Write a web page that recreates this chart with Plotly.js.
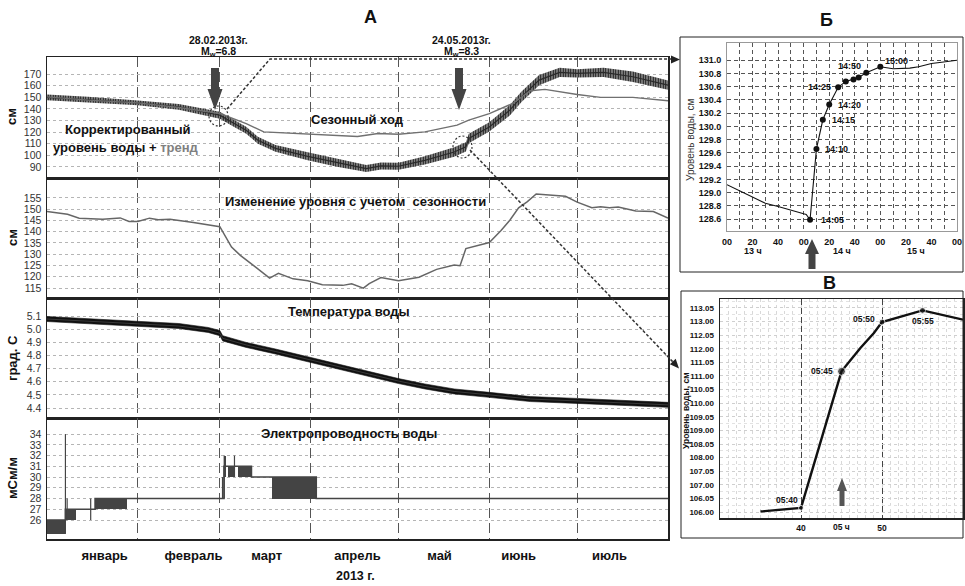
<!DOCTYPE html>
<html>
<head>
<meta charset="utf-8">
<script src="https://cdn.plot.ly/plotly-3.0.1.min.js"></script>
<style>
html,body{margin:0;padding:0;background:#fff;}
#chart{width:965px;height:586px;}
</style>
</head>
<body>
<div id="chart"></div>
<script>
// ================= DATA =================
const monthStarts = ['2013-01-01','2013-02-01','2013-03-01','2013-04-01','2013-05-01','2013-06-01','2013-07-01','2013-08-01'];
const monthLabelDates = ['2013-01-20 16:00','2013-02-20','2013-03-17','2013-04-17','2013-05-15','2013-06-11','2013-07-12'];
const monthLabels = ['январь','февраль','март','апрель','май','июнь','июль'];

const y1Ticks = [90,100,110,120,130,140,150,160,170];
const y2Ticks = [115,120,125,130,135,140,145,150,155];
const y3Ticks = [4.4,4.5,4.6,4.7,4.8,4.9,5.0,5.1];
const y4Ticks = [26,27,28,29,30,31,32,33,34];

// Panel 1: seasonal course (gray line)
const seasDates = ['2013-01-01','2013-01-15','2013-02-01','2013-02-15','2013-03-01','2013-03-10','2013-03-16','2013-03-28','2013-04-10','2013-04-17','2013-04-24','2013-05-01','2013-05-10','2013-05-21','2013-05-25','2013-06-01','2013-06-09','2013-06-15','2013-06-20','2013-07-01','2013-07-09','2013-07-20','2013-08-01'];
const seasVals  = [150.4,147.6,145.2,141.2,136.0,127.4,120.2,118.8,116.8,116.3,118.8,118.2,120.2,126.0,130.3,136.0,144.7,155.6,156.8,152.4,149.9,149.9,147.0];

// Panel 1: corrected water level + trend (center and tidal envelope)
const corrDates = ['2013-01-01','2013-01-15','2013-02-01','2013-02-15','2013-03-01','2013-03-05','2013-03-10','2013-03-14','2013-03-20','2013-03-31','2013-04-10','2013-04-20','2013-04-25','2013-05-01','2013-05-10','2013-05-20','2013-05-24','2013-05-25','2013-06-01','2013-06-08','2013-06-12','2013-06-18','2013-06-25','2013-07-01','2013-07-10','2013-07-20','2013-08-01'];
const corrMid  = [150.0,148.0,145.2,141.8,134.6,128.8,121.6,113.0,106.0,99.2,93.7,88.6,90.9,90.6,95.7,102.9,107.3,114.5,124.5,138.9,150.4,164.8,171.5,170.6,171.5,167.7,160.5];
const corrHigh = [152.5,150.5,147.2,144.3,137.6,131.8,124.6,116.0,109.0,102.7,97.2,91.6,93.9,93.6,99.2,106.9,111.3,118.5,128.5,143.4,154.9,169.3,175.5,174.1,175.5,172.2,164.5];
const corrLow  = [147.5,145.5,143.2,139.3,131.6,125.8,118.6,110.0,103.0,95.7,90.2,85.6,87.9,87.6,92.2,98.9,103.3,110.5,120.5,134.4,145.9,160.3,167.5,167.1,167.5,163.2,156.5];

// Panel 2: level change accounting for seasonality
const adjDates = ['2013-01-01','2013-01-08','2013-01-12','2013-01-20','2013-01-26','2013-01-29','2013-02-01','2013-02-05','2013-02-08','2013-02-12','2013-02-20','2013-03-01','2013-03-05','2013-03-08','2013-03-13','2013-03-18','2013-03-21','2013-03-26','2013-03-31','2013-04-05','2013-04-12','2013-04-15','2013-04-19','2013-04-21','2013-04-25','2013-05-01','2013-05-08','2013-05-14','2013-05-20','2013-05-22','2013-05-24','2013-06-01','2013-06-05','2013-06-08','2013-06-11','2013-06-14','2013-06-17','2013-06-22','2013-06-27','2013-07-01','2013-07-06','2013-07-09','2013-07-12','2013-07-15','2013-07-21','2013-07-27','2013-08-01'];
const adjVals  = [148.9,147.7,146.0,145.5,146.1,144.5,144.5,146.0,145.3,145.5,144.1,142.2,133.2,129.5,124.5,119.4,121.5,119.1,118.2,116.5,116.2,116.9,115.0,117.0,119.7,118.2,119.8,123.3,125.2,124.9,132.5,135.2,140.5,145.1,150.6,153.3,156.7,156.2,155.7,153.1,150.6,151.1,150.6,150.9,149.2,148.9,146.0];

// Panel 3: water temperature
const tempDates = ['2013-01-01','2013-01-15','2013-02-01','2013-02-15','2013-02-25','2013-03-01','2013-03-02','2013-03-10','2013-03-20','2013-04-01','2013-04-15','2013-05-01','2013-05-10','2013-05-20','2013-06-01','2013-06-15','2013-07-01','2013-07-15','2013-08-01'];
const tempMid  = [5.077,5.062,5.044,5.024,4.994,4.969,4.930,4.880,4.830,4.767,4.690,4.605,4.564,4.526,4.500,4.468,4.454,4.440,4.424];
const tempHigh = [5.096,5.081,5.063,5.043,5.013,4.990,4.950,4.899,4.849,4.786,4.709,4.624,4.583,4.545,4.519,4.487,4.473,4.459,4.443];
const tempLow  = [5.058,5.043,5.025,5.005,4.975,4.950,4.910,4.861,4.811,4.748,4.671,4.586,4.545,4.507,4.481,4.449,4.435,4.421,4.405];

// Panel 4: water conductivity
const condStepDates = ['2013-01-01','2013-01-07 07:00','2013-01-17 10:00','2013-03-02 10:00','2013-03-11 19:00','2013-04-02 22:00','2013-08-01'];
const condStepVals  = [26,27,28,31,30,28,28];
const condBlockStart = ['2013-01-01','2013-01-07 14:00','2013-01-17 10:00','2013-03-02 10:00','2013-03-03 16:00','2013-03-07 08:00','2013-03-18 21:00'];
const condBlockEnd   = ['2013-01-07 03:00','2013-01-10 22:00','2013-01-28 08:00','2013-03-03 00:00','2013-03-05 21:00','2013-03-11 19:00','2013-04-02 22:00'];
const condBlockLow   = [24.7,26,27,30,30,30,28];
const condBlockHigh  = [26,27,28,32,31,31,30];
const condSpikeDates = ['2013-01-07 07:00','2013-01-07 21:00','2013-01-15 22:00','2013-03-01 22:00','2013-03-02 12:00','2013-03-06 00:00'];
const condSpikeLow   = [24.7,26,26,28,28,30];
const condSpikeHigh  = [34,28,28,30,32,32];

// Panel Б (28.02.2013)
const bTimes = ['13:00','13:10','13:20','13:30','13:40','13:50','14:00','14:02','14:05','14:10','14:15','14:20','14:27','14:33','14:39','14:43','14:49','15:00','15:10','15:23','15:30','15:40','15:48','16:00'];
const bVals  = [129.12,129.03,128.94,128.84,128.79,128.73,128.68,128.67,128.59,129.66,130.10,130.33,130.59,130.68,130.71,130.74,130.81,130.90,130.87,130.88,130.90,130.95,130.97,131.00];
const bMarkTimes = ['14:05','14:10','14:15','14:20','14:27','14:33','14:39','14:43','14:49','15:00'];
const bMarkVals  = [128.59,129.66,130.10,130.33,130.59,130.68,130.71,130.74,130.81,130.90];
const bLabelText = ['14:05','14:10','14:15','14:20','14:25','14:50','15:00'];
const bLabelAt   = ['14:05','14:10','14:15','14:20','14:27','14:49','15:00'];
const bLabelVal  = [128.59,129.66,130.10,130.33,130.59,130.81,130.90];
const bYTicks = [128.6,128.8,129.0,129.2,129.4,129.6,129.8,130.0,130.2,130.4,130.6,130.8,131.0];
const bHourLabels = ['13 ч','14 ч','15 ч'];
const bHourAt = ['13:20','14:30','15:28'];

// Panel В (24.05.2013)
const vTimes = ['05:35:00','05:40:00','05:45:00','05:45:40','05:47:20','05:49:00','05:50:00','05:55:00','06:00:00'];
const vVals  = [106.02,106.15,111.17,111.42,112.03,112.58,112.98,113.41,113.07];
const vMarkTimes = ['05:40:00','05:45:00','05:50:00','05:55:00'];
const vMarkVals  = [106.15,111.17,112.98,113.41];
const vLabelText = ['05:40','05:45','05:50','05:55'];
const vYTickVals = [106,106.5,107,107.5,108,108.5,109,109.5,110,110.5,111,111.5,112,112.5,113,113.5];
const vYTickText = ['106.00','106.05','107.00','107.05','108.00','108.05','109.00','109.05','110.00','110.05','111.00','111.05','112.00','112.05','113.00','113.05'];

// ================= BUILD =================
const W = 965, H = 586;
const PX = x => x / W, PY = y => 1 - y / H;
const FN = '"Liberation Sans Narrow", "Liberation Sans", Arial, sans-serif';
const FS = '"Liberation Sans", Arial, sans-serif';
function ms(s){ const t = s.length <= 10 ? s + 'T00:00' : s.replace(' ', 'T'); return Date.parse(t + ':00Z'); }

const bDay = '2013-02-28 ', vDay = '2013-05-24 ';

const traces = [];
// panel 1
traces.push({x: corrDates, y: corrLow, xaxis:'x', yaxis:'y', mode:'lines', line:{width:0, color:'#333'}, hoverinfo:'skip'});
traces.push({x: corrDates, y: corrHigh, xaxis:'x', yaxis:'y', mode:'lines', line:{width:0, color:'#333'}, fill:'tonexty',
  fillcolor:'#9a9a9a', fillpattern:{shape:'|', size:2.5, solidity:0.55, fgcolor:'#151515', bgcolor:'#b0b0b0'}, hoverinfo:'skip'});
traces.push({x: corrDates, y: corrMid, xaxis:'x', yaxis:'y', mode:'lines', line:{width:1.2, color:'#2a2a2a'}});
traces.push({x: seasDates, y: seasVals, xaxis:'x', yaxis:'y', mode:'lines', line:{width:1.4, color:'#707070'}});
// panel 2
traces.push({x: adjDates, y: adjVals, xaxis:'x2', yaxis:'y2', mode:'lines', line:{width:1.5, color:'#666'}});
// panel 3
traces.push({x: tempDates, y: tempLow, xaxis:'x3', yaxis:'y3', mode:'lines', line:{width:0.6, color:'#111'}});
traces.push({x: tempDates, y: tempHigh, xaxis:'x3', yaxis:'y3', mode:'lines', line:{width:0.6, color:'#111'}, fill:'tonexty',
  fillcolor:'#111'});
traces.push({x: tempDates, y: tempMid, xaxis:'x3', yaxis:'y3', mode:'lines', line:{width:0.6, color:'#555'}});
// panel 4
traces.push({type:'bar', xaxis:'x4', yaxis:'y4',
  x: condBlockStart.map((s,i) => (ms(s) + ms(condBlockEnd[i])) / 2),
  width: condBlockStart.map((s,i) => ms(condBlockEnd[i]) - ms(s)),
  base: condBlockLow, y: condBlockHigh.map((h,i) => h - condBlockLow[i]),
  marker:{color:'#444', line:{width:0}}});
const spX = [], spY = [];
condSpikeDates.forEach((d,i) => { spX.push(ms(d), ms(d), null); spY.push(condSpikeLow[i], condSpikeHigh[i], null); });
traces.push({x: spX, y: spY, xaxis:'x4', yaxis:'y4', mode:'lines', line:{width:1.2, color:'#444'}});
traces.push({x: condStepDates, y: condStepVals, xaxis:'x4', yaxis:'y4', mode:'lines', line:{width:1.6, color:'#444', shape:'hv'}});
// panel Б
traces.push({x: bTimes.map(t => bDay + t), y: bVals, xaxis:'x5', yaxis:'y5', mode:'lines', line:{width:1.1, color:'#111'}});
traces.push({x: bMarkTimes.map(t => bDay + t), y: bMarkVals, xaxis:'x5', yaxis:'y5', mode:'markers', marker:{size:6, color:'#111'}});
// panel В
traces.push({x: vTimes.map(t => vDay + t), y: vVals, xaxis:'x6', yaxis:'y6', mode:'lines', line:{width:2.4, color:'#111'}});
traces.push({x: vMarkTimes.map(t => vDay + t), y: vMarkVals, xaxis:'x6', yaxis:'y6', mode:'markers', marker:{size:[5,8,6,6], color:'#111'}});

const border = {showline:true, mirror:true, linecolor:'#222', linewidth:1.5, zeroline:false, ticks:''};
function mainX(anchor, showLabels){
  return Object.assign({domain:[PX(47), PX(668)], anchor, type:'date', range:['2013-01-01','2013-08-01'],
    tickmode:'array', tickvals: monthLabelDates, ticktext: monthLabels, showticklabels: showLabels,
    showgrid:false, ticklabelstandoff:4,
    tickfont:{family:FS, size:13, color:'#111', weight:'bold'},
    minor:{tickmode:'array', tickvals: monthStarts, showgrid:true, gridcolor:'#555', gridwidth:1.2, griddash:'10px,5px', ticks:''}}, border);
}
function mainY(anchor, top, bottom, range, ticks, fmt){
  return Object.assign({domain:[PY(bottom), PY(top)], anchor, range, tickmode:'array', tickvals: ticks, tickformat: fmt || '',
    showgrid:true, gridcolor:'#b5b5b5', griddash:'dot', gridwidth:1, ticklabelstandoff:2,
    tickfont:{family:FN, size:10.5, color:'#333'}}, border);
}

const layout = {
  width: W, height: H, margin:{l:0, r:0, t:0, b:0}, paper_bgcolor:'#fff', plot_bgcolor:'#fff',
  showlegend:false, bargap:0,
  xaxis: mainX('y', false), xaxis2: mainX('y2', false), xaxis3: mainX('y3', false), xaxis4: mainX('y4', true),
  yaxis: mainY('x', 57, 178, [80.5, 184.7], y1Ticks),
  yaxis2: mainY('x2', 178, 298, [110.6, 163.8], y2Ticks),
  yaxis3: mainY('x3', 298, 418, [4.324, 5.237], y3Ticks, '.1f'),
  yaxis4: mainY('x4', 418, 539, [24.23, 35.5], y4Ticks),
  xaxis5: {domain:[PX(727), PX(957)], anchor:'y5', type:'date', range:[bDay+'13:00', bDay+'16:00'],
    tickmode:'linear', tick0: bDay+'13:00', dtick: 1200000, tickformat:'%M',
    showgrid:true, gridcolor:'#555', griddash:'4px,3px', gridwidth:1,
    minor:{dtick:600000, tick0: bDay+'13:00', showgrid:true, gridcolor:'#555', griddash:'4px,3px', gridwidth:1, ticks:''},
    showline:true, mirror:true, linecolor:'#999', linewidth:1, zeroline:false, ticks:'', ticklabelstandoff:2,
    tickfont:{family:FS, size:9, color:'#111', weight:'bold'}},
  yaxis5: {domain:[PY(231), PY(43)], anchor:'x5', range:[128.42, 131.26], tickmode:'array', tickvals: bYTicks, tickformat:'.1f',
    showgrid:true, gridcolor:'#555', griddash:'4px,3px', gridwidth:1,
    showline:true, mirror:true, linecolor:'#999', linewidth:1, zeroline:false, ticks:'', ticklabelstandoff:3,
    tickfont:{family:FS, size:9, color:'#111', weight:'bold'}},
  xaxis6: {domain:[PX(720), PX(963)], anchor:'y6', type:'date', range:[vDay+'05:30', vDay+'06:00'],
    tickmode:'array', tickvals:[vDay+'05:40', vDay+'05:50'], ticktext:['40','50'],
    showgrid:true, gridcolor:'#444', griddash:'6px,3px', gridwidth:1,
    minor:{dtick:60000, tick0: vDay+'05:30', showgrid:true, gridcolor:'#d8d8d8', griddash:'dot', gridwidth:1, ticks:''},
    showline:true, mirror:true, linecolor:'#222', linewidth:1.5, zeroline:false, ticks:'', ticklabelstandoff:1,
    tickfont:{family:FS, size:8.5, color:'#111', weight:'bold'}},
  yaxis6: {domain:[PY(518), PY(299)], anchor:'x6', range:[105.78, 113.83], tickmode:'array', tickvals: vYTickVals, ticktext: vYTickText,
    showgrid:true, gridcolor:'#cfcfcf', griddash:'dot', gridwidth:1,
    minor:{dtick:0.25, tick0:106, showgrid:true, gridcolor:'#e2e2e2', griddash:'dot', gridwidth:1, ticks:''},
    showline:true, mirror:true, linecolor:'#222', linewidth:1.5, zeroline:false, ticks:'', ticklabelstandoff:3,
    tickfont:{family:FS, size:8, color:'#111', weight:'bold'}},
  annotations: [], shapes: []
};

function txt(text, x, y, size, extra){
  return Object.assign({text, x: PX(x), y: PY(y), xref:'paper', yref:'paper', showarrow:false, xanchor:'center', yanchor:'middle',
    font:{family:FS, size, color:'#111', weight:'bold'}}, extra || {});
}
const A = layout.annotations;
A.push(txt('А', 370, 17, 18));
A.push(txt('Б', 826, 20, 18));
A.push(txt('В', 829, 283, 18));
A.push(txt('28.02.2013г.', 218, 40, 10.5));
A.push(txt('M<sub>w</sub>=6.8', 218, 52, 10.5));
A.push(txt('24.05.2013г.', 461, 40, 10.5));
A.push(txt('M<sub>w</sub>=8.3', 461, 52, 10.5));
A.push(txt('Сезонный ход', 357, 120, 13));
A.push(txt('Корректированный', 128, 129, 13));
A.push(txt('уровень воды + <span style="color:#808080">тренд</span>', 126, 147, 13));
A.push(txt('Изменение уровня с учетом  сезонности', 355, 201, 13));
A.push(txt('Температура воды', 349, 311, 13));
A.push(txt('Электропроводность воды', 349, 433, 13));
A.push(txt('2013 г.', 355, 576, 12.5));
A.push(txt('см', 12, 117, 13, {textangle:-90}));
A.push(txt('см', 12, 238, 13, {textangle:-90}));
A.push(txt('град. С', 12, 358, 13, {textangle:-90}));
A.push(txt('мСм/м', 12, 478, 13, {textangle:-90}));
A.push(txt('Уровень воды, см', 690, 140, 10, {textangle:-90, font:{family:FS, size:10, color:'#333'}}));
A.push(txt('Уровень воды, см', 686, 411, 8.5, {textangle:-90}));
bHourLabels.forEach((t,i) => A.push({text:t, x: bDay + bHourAt[i], y: PY(251), xref:'x5', yref:'paper', showarrow:false,
  font:{family:FS, size:9, color:'#111', weight:'bold'}}));
A.push({text:'05 ч', x: vDay+'05:45', y: PY(534), xref:'x6', yref:'paper', showarrow:false, font:{family:FS, size:8.5, color:'#111', weight:'bold'}});
const bLabOpts = [
  {xanchor:'left', xshift:9}, {xanchor:'left', xshift:7}, {xanchor:'left', xshift:7}, {xanchor:'left', xshift:7},
  {xanchor:'right', xshift:-5}, {xanchor:'right', xshift:-3, yshift:7}, {xanchor:'left', xshift:3, yshift:6}];
bLabelText.forEach((t,i) => A.push(Object.assign({text:t, x: bDay + bLabelAt[i], y: bLabelVal[i], xref:'x5', yref:'y5', showarrow:false,
  yanchor:'middle', font:{family:FS, size:9, color:'#111', weight:'bold'}}, bLabOpts[i])));
const vLabOpts = [
  {xanchor:'right', xshift:-1, yshift:8}, {xanchor:'right', xshift:-7}, {xanchor:'right', xshift:-5, yshift:3}, {yanchor:'top', yshift:-4}];
vLabelText.forEach((t,i) => A.push(Object.assign({text:t, x: vDay + vMarkTimes[i], y: vMarkVals[i], xref:'x6', yref:'y6', showarrow:false,
  yanchor:'middle', font:{family:FS, size:8.5, color:'#111', weight:'bold'}}, vLabOpts[i])));

// ---- decorative shapes (paper coordinates) ----
const S = layout.shapes;
function poly(pts){ return 'M' + pts.map(p => PX(p[0]).toFixed(5) + ',' + PY(p[1]).toFixed(5)).join(' L') + ' Z'; }
function line(pts){ return 'M' + pts.map(p => PX(p[0]).toFixed(5) + ',' + PY(p[1]).toFixed(5)).join(' L'); }
const dotted = {color:'#333', width:1.5, dash:'3px,2px'};
S.push({type:'rect', xref:'paper', yref:'paper', x0:PX(680), x1:PX(963), y0:PY(272), y1:PY(37), line:{color:'#222', width:1}});
S.push({type:'rect', xref:'paper', yref:'paper', x0:PX(681), x1:PX(963), y0:PY(538), y1:PY(291), line:{color:'#222', width:1}});
S.push({type:'path', xref:'paper', yref:'paper', path: line([[227,109],[270,59],[671,59]]), line: dotted});
S.push({type:'path', xref:'paper', yref:'paper', path: poly([[671,55.5],[671,63.5],[680,59.5]]), fillcolor:'#222', line:{width:0}});
S.push({type:'path', xref:'paper', yref:'paper', path: line([[470,150],[673,362]]), line: dotted});
S.push({type:'path', xref:'paper', yref:'paper', path: poly([[675.7,358.7],[669.9,364.3],[679,368.5]]), fillcolor:'#222', line:{width:0}});
S.push({type:'circle', xref:'paper', yref:'paper', x0:PX(209), x1:PX(228), y0:PY(126), y1:PY(106), line:{color:'#333', width:1.2, dash:'2px,2px'}});
S.push({type:'circle', xref:'paper', yref:'paper', x0:PX(453), x1:PX(472), y0:PY(158), y1:PY(136), line:{color:'#333', width:1.2, dash:'2px,2px'}});
// block arrows
S.push({type:'path', xref:'paper', yref:'paper', path: poly([[211,68],[219,68],[219,89],[222.5,89],[215,110],[207.5,89],[211,89]]), fillcolor:'#444', line:{width:0}});
S.push({type:'path', xref:'paper', yref:'paper', path: poly([[455,68],[463,68],[463,89],[466.5,89],[459,110],[451.5,89],[455,89]]), fillcolor:'#444', line:{width:0}});
S.push({type:'path', xref:'paper', yref:'paper', path: poly([[808.5,269],[815.5,269],[815.5,254],[819,254],[812,239],[805,254],[808.5,254]]), fillcolor:'#444', line:{width:0}});
S.push({type:'path', xref:'paper', yref:'paper', path: poly([[839.5,506],[844.5,506],[844.5,491],[847,491],[842,478],[837,491],[839.5,491]]), fillcolor:'#555', line:{width:0}});

Plotly.newPlot('chart', traces, layout, {displayModeBar:false, staticPlot:true});
</script>
</body>
</html>
